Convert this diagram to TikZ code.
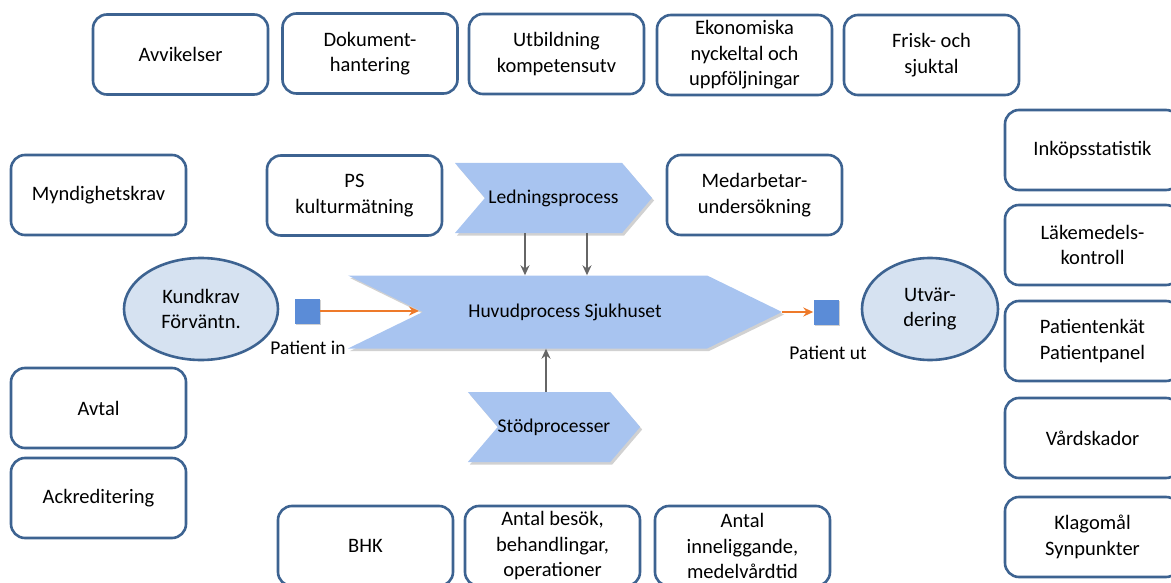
\documentclass[tikz,border=0pt]{standalone}
\usepackage{fontspec}
\setmainfont{Carlito}
\usetikzlibrary{arrows.meta, positioning, shapes.geometric, shapes.symbols, shadows, calc}
\definecolor{qboxline}{HTML}{3D6391}
\definecolor{qchev}{HTML}{A8C4F0}
\definecolor{qoval}{HTML}{D6E2F1}
\definecolor{qsquare}{HTML}{5B8CD7}
\definecolor{qorange}{HTML}{EE7A2A}
\definecolor{qgrey}{HTML}{666666}

\begin{document}
\begin{tikzpicture}[x=1pt, y=-1pt,
    font=\fontsize{20.5}{25.5}\selectfont,
    box/.style={draw=qboxline, line width=2.6pt, rounded corners=14pt, fill=white,
      align=center, minimum width=175pt, minimum height=80pt, inner sep=2pt},
    oval/.style={ellipse, draw=qboxline, line width=2.6pt, fill=qoval, align=center, inner sep=0pt},
    chev/.style={signal, signal from=west, signal to=east, fill=qchev, inner sep=0pt,
      font=\fontsize{19.5}{24}\selectfont,
      drop shadow={shadow xshift=2pt, shadow yshift=-2.5pt, opacity=0.3, fill=black!60}},
    sq/.style={fill=qsquare, minimum size=25pt, inner sep=0pt,
      drop shadow={shadow xshift=1.5pt, shadow yshift=-1.5pt, opacity=0.3, fill=black!60}},
    flow/.style={-{Stealth[length=10pt, width=9pt]}, qorange, line width=2pt},
    feed/.style={-{Stealth[length=10pt, width=9pt]}, qgrey, line width=1.5pt},
    lbl/.style={font=\fontsize{19.5}{24}\selectfont}]

  \useasboundingbox (0,0) rectangle (1171,583);

  % top row
  \node[box] (avv) at (180.5,54.5) {Avvikelser};
  \node[box] (dok) at (370,53.5) {Dokument-\\hantering};
  \node[box] (utb) at (556.5,54) {Utbildning\\kompetensutv};
  \node[box] (eko) at (744.5,55) {Ekonomiska\\nyckeltal och\\uppföljningar};
  \node[box] (fri) at (931.5,55) {Frisk- och\\sjuktal};

  % left column
  \node[box] (myn) at (98.5,195) {Myndighetskrav};
  \node[box] (avt) at (98.5,408) {Avtal};
  \node[box] (ack) at (98.5,498) {Ackreditering};

  % right column
  \node[box] (ink) at (1092.5,150) {Inköpsstatistik};
  \node[box] (lak) at (1092.5,245) {Läkemedels-\\kontroll};
  \node[box] (pen) at (1092.5,341) {Patientenkät\\Patientpanel};
  \node[box] (vrd) at (1092.5,438) {Vårdskador};
  \node[box] (kla) at (1092.5,537) {Klagomål\\Synpunkter};

  % second row
  \node[box] (psk) at (354.5,195.5) {PS\\kulturmätning};
  \node[box] (med) at (754.5,195) {Medarbetar-\\undersökning};

  % bottom row
  \node[box] (bhk) at (365.5,546) {BHK};
  \node[box] (bes) at (552.5,546) {Antal besök,\\behandlingar,\\operationer};
  \node[box] (inl) at (742.5,546) {Antal\\inneliggande,\\medelvårdtid};

  % processes
  \node[chev, minimum width=197pt, minimum height=70pt, signal pointer angle=99] (lp) at (553.5,198) {Ledningsprocess};
  \node[chev, minimum width=434pt, minimum height=73pt, signal pointer angle=52] (hp) at (565,312) {Huvudprocess Sjukhuset};
  \node[chev, minimum width=168pt, minimum height=70pt, signal pointer angle=99] (sp) at (554,427) {Stödprocesser};

  \node[oval, minimum width=154pt, minimum height=102pt] (kun) at (201,309) {Kundkrav\\Förväntn.};
  \node[oval, minimum width=136pt, minimum height=102pt] (utv) at (930,309) {Utvär-\\dering};

  \node[sq] (pin) at (307,311) {};
  \node[sq] (pout) at (826,312) {};
  \node[lbl] (pinl) at (308,348) {Patient in};
  \node[lbl] (poutl) at (828,353) {Patient ut};

  \coordinate (hpin) at (419,311);
  \draw[flow] (pin.east) -- (hpin);
  \draw[flow] (hp.east) -- (pout.west);

  \draw[feed] ([xshift=-28.5pt]lp.south) -- ([xshift=-28.5pt]lp.south |- hp.north);
  \draw[feed] ([xshift=33.5pt]lp.south) -- ([xshift=33.5pt]lp.south |- hp.north);
  \draw[feed] ([xshift=-8pt]sp.north) -- ([xshift=-8pt]sp.north |- hp.south);
\end{tikzpicture}
\end{document}
